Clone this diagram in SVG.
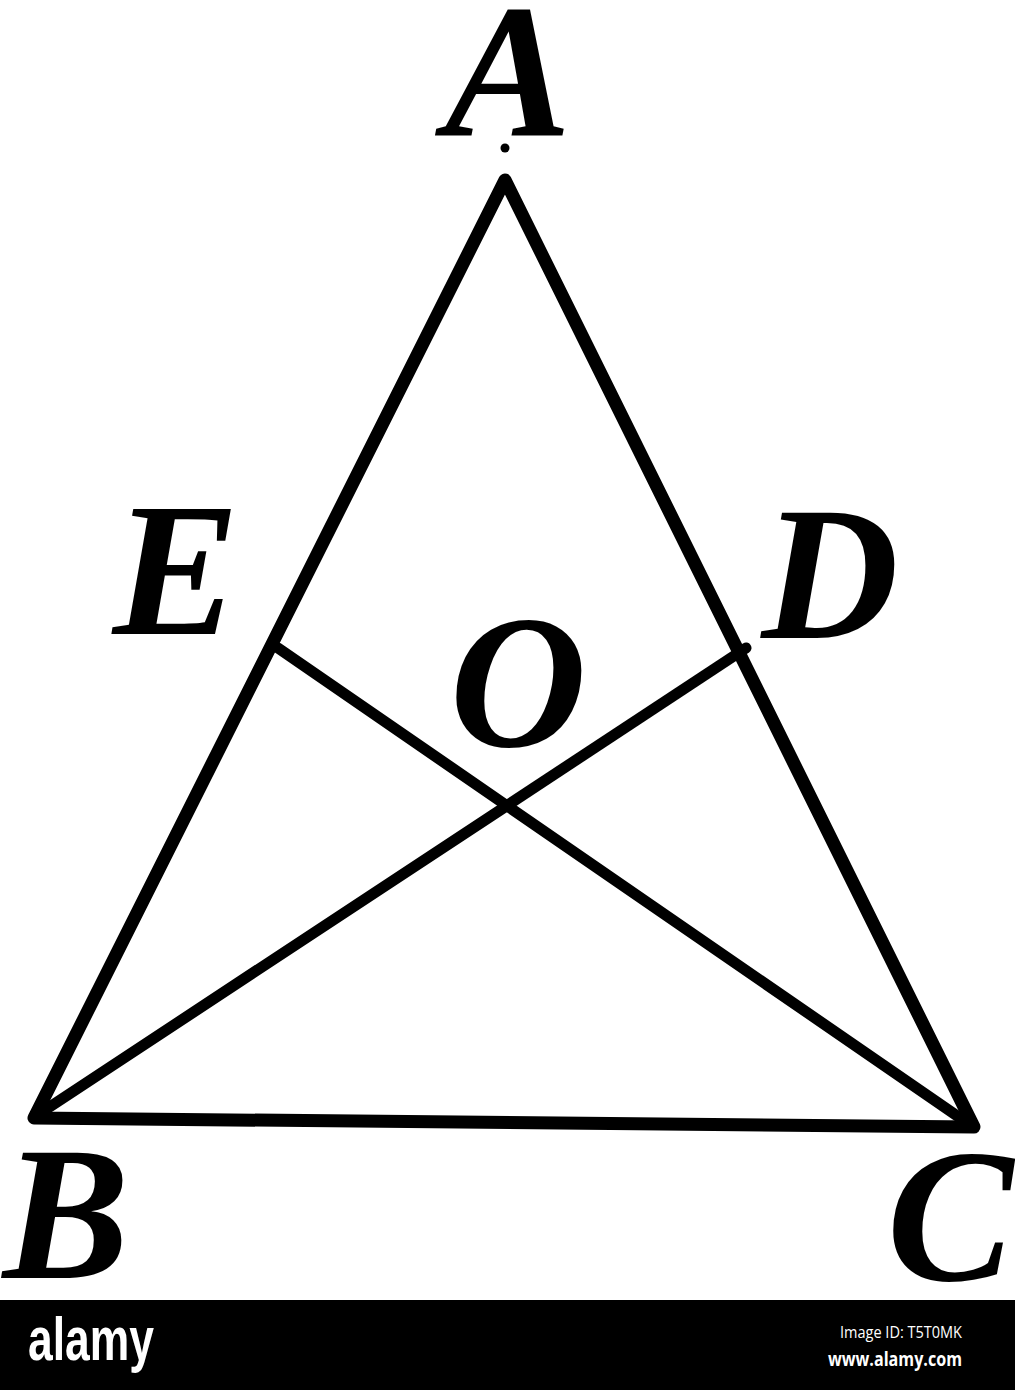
<svg xmlns="http://www.w3.org/2000/svg" width="1015" height="1390" viewBox="0 0 1015 1390">
<style>
.lbl{font-family:"Liberation Serif","DejaVu Serif",serif;font-weight:bold;font-style:italic;font-size:190px;fill:#000;text-anchor:middle}
.ln{fill:none;stroke:#000;stroke-linecap:round;stroke-linejoin:round}
</style>
<rect width="1015" height="1390" fill="#fff"/>
<g id="connectors">
<polygon class="ln" points="505,180 34,1118 974,1127" stroke-width="13"/>
<line class="ln" x1="42" y1="1112" x2="746" y2="648" stroke-width="11"/>
<line class="ln" x1="966" y1="1122" x2="278" y2="648" stroke-width="11"/>
<circle cx="505" cy="148" r="4.5" fill="#000"/>
</g>
<g id="A"><text class="lbl" x="508" y="136" font-size="178">A</text></g>
<g id="E"><text class="lbl" x="176" y="634">E</text></g>
<g id="D"><text class="lbl" x="830" y="638">D</text></g>
<g id="O"><text class="lbl" x="518" y="746">O</text></g>
<g id="B"><text class="lbl" x="66" y="1278">B</text></g>
<g id="C"><text class="lbl" x="950" y="1280">C</text></g>
<g id="banner">
<rect x="0" y="1300" width="1015" height="90" fill="#000"/>
<text x="28" y="1360" font-family="'Liberation Sans Narrow','Liberation Sans',sans-serif" font-weight="bold" font-size="62" fill="#fff" textLength="126" lengthAdjust="spacingAndGlyphs">alamy</text>
<text x="962" y="1338" font-family="'Open Sans','Liberation Sans',sans-serif" font-size="16" fill="#fff" text-anchor="end" textLength="122" lengthAdjust="spacingAndGlyphs">Image ID: T5T0MK</text>
<text x="962" y="1366" font-family="'Open Sans','Liberation Sans',sans-serif" font-weight="bold" font-size="20" fill="#fff" text-anchor="end" textLength="134" lengthAdjust="spacingAndGlyphs">www.alamy.com</text>
</g>
</svg>
